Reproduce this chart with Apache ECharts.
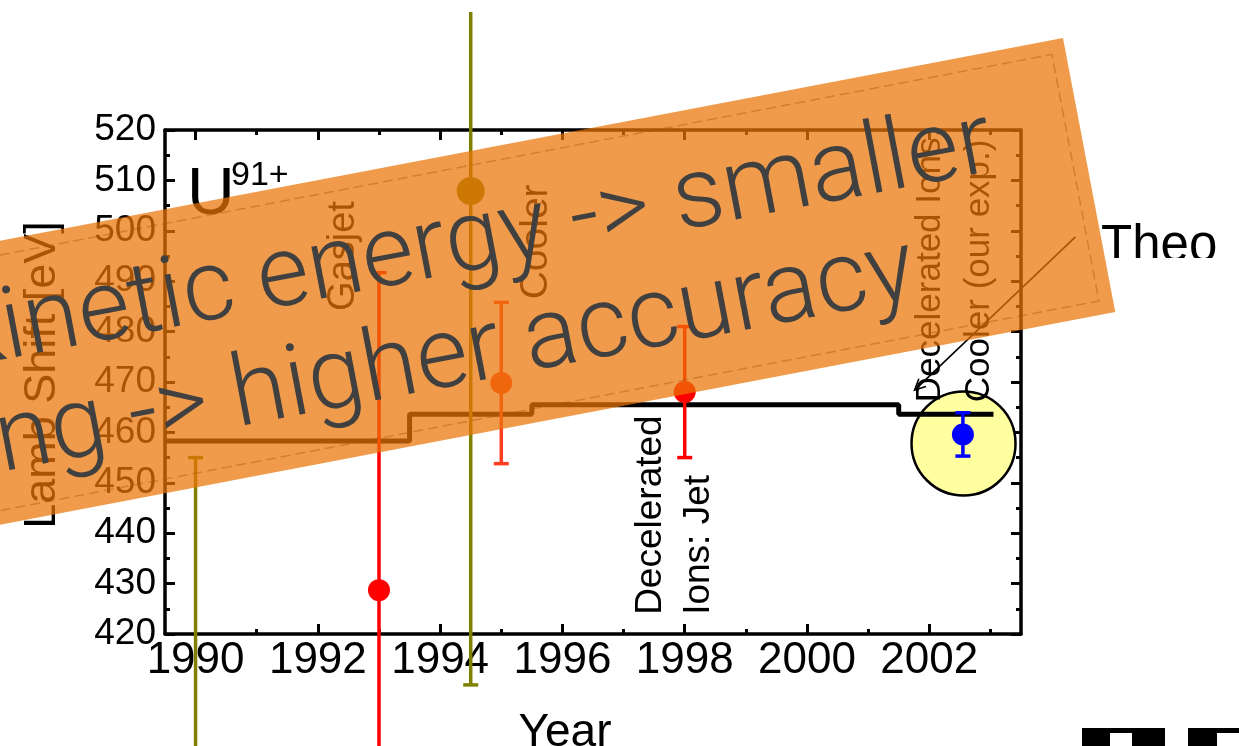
<!DOCTYPE html>
<html><head><meta charset="utf-8">
<script src="https://cdn.jsdelivr.net/npm/echarts@6/dist/echarts.min.js"></script>
<style>html,body{margin:0;padding:0;background:#fff;overflow:hidden}#c{width:1239px;height:746px}</style>
</head><body><div id="c"></div>
<script>
const FONT = '"Liberation Sans", Arial, Helvetica, sans-serif';
const BANNER_FONT = '300 100px Roboto, "Liberation Sans", Arial, sans-serif';

// ---- measurements (Lamb shift of U91+ vs. year) ----
const years       = [1990.0, 1993.0, 1994.5, 1995.0, 1998.0, 2002.55];
const shifts      = [390.0, 428.7, 507.9, 469.8, 468.0, 459.6];
const errLow      = [65, 63, 98, 16, 13, 4.3];
const errHigh     = [65, 63, 35.5, 16, 13, 4.3];
const capHigh     = [1, 1, 0, 1, 1, 1];
const pointColors = ['#808000', '#ff0000', '#808000', '#ff4020', '#ff0000', '#0000ff'];

// ---- theory (step line) ----
const theoryYears = [1989.5, 1993.5, 1995.5, 2001.5, 2003.05];
const theoryShift = [458.3, 463.6, 465.5, 463.6, 463.6];

// ---- axis ticks ----
const xMajorTicks = [1990, 1992, 1994, 1996, 1998, 2000, 2002];
const xMinorTicks = [1991, 1993, 1995, 1997, 1999, 2001, 2003];
const yTickLabels = [420, 430, 440, 450, 460, 470, 480, 490, 500, 510, 520];

// ---- annotations (data coordinates) ----
const annoTexts = ['Gasjet', 'Cooler', 'Decelerated\nIons: Jet', 'Decelerated Ions:\nCooler (our exp.)'];
const annoX     = [1992.42, 1995.57, 1997.83, 2002.42];
const annoY     = [495.0, 497.8, 423.8, 466.0];
const highlight = [2002.56, 457.8];
const arrowFrom = [2004.39, 498.8];
const arrowTo   = [2001.76, 468.4];

// styles
const pointRadius = [11, 11, 14, 11, 11, 11];
const annoStyle = [
  {size: 38, align: 'center', lh: 44},
  {size: 39, align: 'center', lh: 44},
  {size: 37, align: 'left', lh: 48},
  {size: 35, align: 'left', lh: 49}
];

const chart = echarts.init(document.getElementById('c'), null, {renderer: 'canvas'});
const TH = 10.8 * Math.PI / 180;

function xAxisDef(pos, ticks, len, line, labels) {
  return {
    type: 'value', position: pos, min: 1989.5, max: 2003.5,
    splitLine: {show: false},
    axisLine: {show: line, onZero: false, lineStyle: {color: '#000', width: 3.5}},
    axisTick: {show: true, inside: true, length: len, customValues: ticks, lineStyle: {color: '#000', width: 3}},
    axisLabel: labels ? {show: true, customValues: ticks, fontSize: 44, fontFamily: FONT, color: '#000', margin: 5,
      formatter: v => String(Math.round(v))} : {show: false},
    name: labels ? 'Year' : '', nameLocation: 'middle', nameGap: 76,
    nameTextStyle: {fontSize: 46, fontFamily: FONT, color: '#000', padding: [0, 56, 0, 0]}
  };
}
function yAxisDef(pos, labels) {
  return {
    type: 'value', position: pos, min: 420, max: 520, interval: 10,
    splitLine: {show: false},
    axisLine: {show: true, onZero: false, lineStyle: {color: '#000', width: 3.5}},
    axisTick: {show: true, inside: true, length: 10, lineStyle: {color: '#000', width: 3}},
    minorTick: {show: true, splitNumber: 2, length: 5, lineStyle: {color: '#000', width: 3}},
    axisLabel: labels ? {show: true, fontSize: 37, fontFamily: FONT, color: '#000', margin: 9,
      formatter: v => yTickLabels.includes(v) ? String(v) : ''} : {show: false},
    name: labels ? 'Lamb Shift [eV]' : '', nameLocation: 'middle', nameRotate: 90, nameGap: 100,
    nameTextStyle: {fontSize: 45, fontFamily: FONT, color: '#000', padding: [0, 0, 0, 14]}
  };
}

const option = {
  animation: false,
  backgroundColor: '#fff',
  grid: {left: 165, right: 218, top: 130, bottom: 112, containLabel: false, outerBoundsMode: 'none'},
  xAxis: [
    xAxisDef('bottom', xMajorTicks, 10, true, true),
    xAxisDef('bottom', xMinorTicks, 5, false, false),
    xAxisDef('top', xMajorTicks, 10, true, false),
    xAxisDef('top', xMinorTicks, 5, false, false)
  ],
  yAxis: [yAxisDef('left', true), yAxisDef('right', false)],
  series: [
    { // highlight circle + arrow
      type: 'custom', clip: false, z: 1, silent: true,
      data: [highlight],
      renderItem(params, api) {
        const c = api.coord([api.value(0), api.value(1)]);
        const a = api.coord(arrowFrom), b = api.coord(arrowTo);
        const ang = Math.atan2(b[1] - a[1], b[0] - a[0]);
        const L = 12, sp = 0.45;
        return {type: 'group', children: [
          {type: 'circle', shape: {cx: c[0], cy: c[1], r: 52}, style: {fill: '#ffffa0', stroke: '#000', lineWidth: 2.5}},
          {type: 'line', shape: {x1: a[0], y1: a[1], x2: b[0], y2: b[1]}, style: {stroke: '#000', lineWidth: 1.6}},
          {type: 'polyline', shape: {points: [
            [b[0] - L * Math.cos(ang - sp), b[1] - L * Math.sin(ang - sp)], [b[0], b[1]],
            [b[0] - L * Math.cos(ang + sp), b[1] - L * Math.sin(ang + sp)]]},
            style: {stroke: '#000', lineWidth: 1.6, fill: null}}
        ]};
      }
    },
    { // theory
      type: 'line', step: 'end', symbol: 'none', z: 3, silent: true,
      lineStyle: {color: '#000', width: 5},
      data: theoryYears.map((x, i) => [x, theoryShift[i]])
    },
    { // measurements with error bars
      type: 'custom', clip: false, z: 4, silent: true,
      data: years.map((x, i) => [x, shifts[i]]),
      renderItem(params, api) {
        const i = params.dataIndex;
        const x = api.value(0), y = api.value(1);
        const c = api.coord([x, y]);
        const t = api.coord([x, y + errHigh[i]]);
        const bt = api.coord([x, y - errLow[i]]);
        const col = pointColors[i];
        const cap = 7.5;
        const ch = [{type: 'line', shape: {x1: c[0], y1: t[1], x2: c[0], y2: bt[1]}, style: {stroke: col, lineWidth: 3.5}}];
        if (capHigh[i]) ch.push({type: 'line', shape: {x1: c[0] - cap, y1: t[1], x2: c[0] + cap, y2: t[1]}, style: {stroke: col, lineWidth: 3.5}});
        ch.push({type: 'line', shape: {x1: c[0] - cap, y1: bt[1], x2: c[0] + cap, y2: bt[1]}, style: {stroke: col, lineWidth: 3.5}});
        ch.push({type: 'circle', shape: {cx: c[0], cy: c[1], r: pointRadius[i]}, style: {fill: col}});
        return {type: 'group', children: ch};
      }
    },
    { // vertical annotations
      type: 'custom', clip: false, z: 5, silent: true,
      data: annoX.map((x, i) => [x, annoY[i]]),
      renderItem(params, api) {
        const i = params.dataIndex;
        const c = api.coord([api.value(0), api.value(1)]);
        const s = annoStyle[i];
        return {type: 'text', x: c[0], y: c[1], rotation: Math.PI / 2,
          style: {text: annoTexts[i], fill: '#000', font: s.size + 'px ' + FONT,
            align: s.align, verticalAlign: 'middle', lineHeight: s.lh}};
      }
    }
  ],
  graphic: [
    {type: 'text', x: 187, y: 196, z: 50, style: {text: 'U', font: '66px ' + FONT, fill: '#000', align: 'left', verticalAlign: 'middle'}},
    {type: 'text', x: 231, y: 176, z: 50, style: {text: '91+', font: '34px ' + FONT, fill: '#000', align: 'left', verticalAlign: 'middle'}},
    {type: 'text', x: 1101, y: 247, z: 50, style: {text: 'Theo', font: '51px ' + FONT, fill: '#000', align: 'left', verticalAlign: 'middle'}},
    {type: 'rect', z: 60, shape: {x: 1100, y: 258, width: 139, height: 20}, style: {fill: '#fff'}},
    {type: 'rect', z: 60, shape: {x: 1082, y: 728, width: 83, height: 18}, style: {fill: '#000'}},
    {type: 'rect', z: 61, shape: {x: 1110, y: 733, width: 22, height: 13}, style: {fill: '#fff'}},
    {type: 'rect', z: 60, shape: {x: 1188, y: 728, width: 51, height: 18}, style: {fill: '#000'}},
    {type: 'rect', z: 61, shape: {x: 1217, y: 733, width: 22, height: 13}, style: {fill: '#fff'}},
    {
      type: 'group', x: 1063, y: 38, rotation: TH, z: 100,
      children: [
        {type: 'rect', z: 100, shape: {x: -1400, y: 0, width: 1400, height: 279},
          style: {fill: 'rgba(234,117,5,0.72)'}},
        {type: 'rect', z: 101, shape: {x: -1400, y: 14, width: 1386, height: 251},
          style: {fill: null, stroke: 'rgba(170,80,10,0.4)', lineWidth: 1.5, lineDash: [10, 5]}},
        {type: 'text', z: 102, x: -90, y: 92, style: {text: 'kinetic energy -> smaller', font: BANNER_FONT,
          fill: '#404040', align: 'right', verticalAlign: 'middle'}},
        {type: 'text', z: 102, x: -190, y: 202, style: {text: 'ng -> higher accuracy', font: BANNER_FONT,
          fill: '#404040', align: 'right', verticalAlign: 'middle'}}
      ]
    }
  ]
};
chart.setOption(option);
</script>
</body></html>
